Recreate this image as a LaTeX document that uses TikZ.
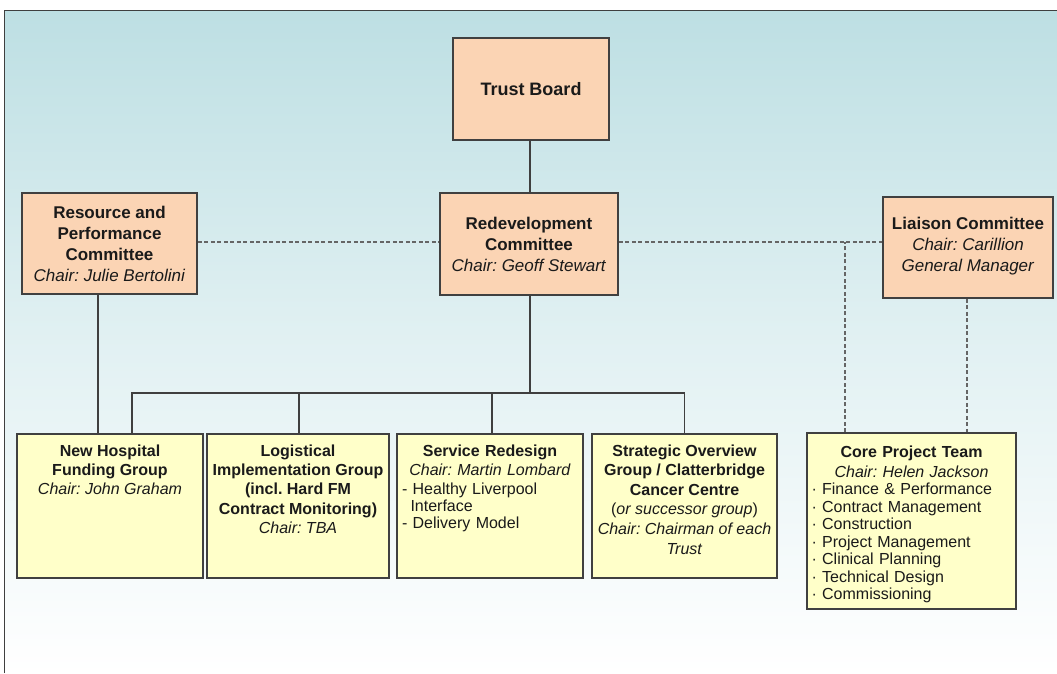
\documentclass[tikz,border=0pt]{standalone}
\usepackage{fontspec}
\setmainfont{Liberation Sans}
\definecolor{salmon}{HTML}{FBD4B4}
\definecolor{paleyel}{HTML}{FFFFC9}
\definecolor{boxline}{HTML}{404040}
\definecolor{txt}{HTML}{1A1A1A}
\definecolor{bgtop}{HTML}{BDDFE3}
\definecolor{conn}{HTML}{3F3F3F}
\frenchspacing
\begin{document}
\begin{tikzpicture}[x=1pt,y=-1pt,
  box/.style={draw=boxline, line width=1.6pt, inner sep=0pt},
  upper/.style={box, fill=salmon},
  lower/.style={box, fill=paleyel},
  uptext/.style={inner sep=0pt, align=center, text=txt, font=\fontsize{17}{21}\selectfont},
  lowtext/.style={inner sep=0pt, anchor=north, text=txt, font=\fontsize{16}{19.4}\selectfont},
  solidline/.style={draw=conn, line width=1.2pt},
  dashline/.style={draw=conn!80, line width=1.1pt, dash pattern=on 4pt off 2.5pt}
]
\useasboundingbox (0,0) rectangle (1057,673);
% background
\shade[top color=bgtop, bottom color=white, middle color=bgtop!45] (4,10) rectangle (1057,673);
\draw[draw=conn, line width=1pt] (4,673) -- (4,10) -- (1057,10);

% upper boxes
\node[upper, minimum width=156pt, minimum height=102pt] (tb) at (531,89) {};
\node[upper, minimum width=178pt, minimum height=102pt] (rd) at (529,244) {};
\node[upper, minimum width=175pt, minimum height=101pt] (rp) at (109.5,243.5) {};
\node[upper, minimum width=170pt, minimum height=101pt] (lc) at (968,247.5) {};

% lower boxes
\node[lower, minimum width=186pt, minimum height=144pt] (nh) at (110,506) {};
\node[lower, minimum width=182pt, minimum height=144pt] (lg) at (298,506) {};
\node[lower, minimum width=186pt, minimum height=144pt] (sr) at (490,506) {};
\node[lower, minimum width=185pt, minimum height=144pt] (so) at (684.5,506) {};
\node[lower, minimum width=209pt, minimum height=176pt] (cp) at (911.5,521) {};

% connectors
\coordinate (bus) at (530,393);
\draw[solidline] ([xshift=-1pt]tb.south) -- ([xshift=1pt]rd.north);
\draw[solidline] ([xshift=1pt]rd.south) -- (bus);
\draw[solidline] ([xshift=22pt]nh.north) |- (so.north |- bus) -- (so.north);
\draw[solidline] ([xshift=1pt]lg.north) -- ([xshift=1pt]lg.north |- bus);
\draw[solidline] ([xshift=2pt]sr.north) -- ([xshift=2pt]sr.north |- bus);
\draw[solidline] ([xshift=-11.5pt]rp.south) -- ([xshift=-12pt]nh.north);
\draw[dashline] ([yshift=1.5pt]rp.east) -- ([yshift=1.5pt]rp.east -| rd.west);
\draw[dashline] ([yshift=2pt]rd.east) -- ([yshift=2pt]rd.east -| lc.west);
\coordinate (cpl) at ([xshift=-66.5pt]cp.north);
\draw[dashline] (cpl) -- ([yshift=2pt]cpl |- rd.east);
\draw[dashline] ([xshift=-1pt]lc.south) -- ([xshift=-1pt]lc.south |- cp.north);

% upper texts
\node[uptext, font=\fontsize{18}{21}\selectfont\bfseries] (tbt) at (tb) {Trust Board};
\node[uptext] (rdt) at (rd) {\textbf{Redevelopment}\\\textbf{Committee}\\\textit{Chair: Geoff Stewart}};
\node[uptext] (rpt) at (rp) {\textbf{Resource and}\\\textbf{Performance}\\\textbf{Committee}\\\textit{Chair: Julie Bertolini}};
\node[uptext] (lct) at ([yshift=1.5pt]lc) {\textbf{Liaison Committee}\\\textit{Chair: Carillion}\\\textit{General Manager}};

% lower texts
\node[lowtext, align=center] (nht) at ([yshift=-11pt]nh.north) {\textbf{New Hospital}\\\textbf{Funding Group}\\\textit{Chair: John Graham}};
\node[lowtext, align=center] (lgt) at ([yshift=-11pt]lg.north) {\textbf{Logistical}\\\textbf{Implementation Group}\\\textbf{(incl. Hard FM}\\\textbf{Contract Monitoring)}\\\textit{Chair: TBA}};
\node[lowtext, text width=176pt] (srt) at ([yshift=-11pt]sr.north) {\centering\fontsize{16}{19}\selectfont\textbf{Service Redesign}\\\textit{Chair: Martin Lombard}\par\vspace{2pt}
\raggedright\fontsize{16}{17}\selectfont - Healthy Liverpool\\\hspace*{8.5pt}Interface\\- Delivery Model\par};
\node[lowtext, align=center, font=\fontsize{16}{19.6}\selectfont] (sot) at ([yshift=-11pt]so.north) {\textbf{Strategic Overview}\\\textbf{Group / Clatterbridge}\\\textbf{Cancer Centre}\\(\textit{or successor group})\\\textit{Chair: Chairman of each}\\\textit{Trust}};
\node[lowtext, text width=200pt] (cpt) at ([yshift=-13pt]cp.north) {\centering\fontsize{16}{20}\selectfont\textbf{Core Project Team}\\\textit{Chair: Helen Jackson}\par
\raggedright\fontsize{16}{17.5}\selectfont · Finance \& Performance\\· Contract Management\\· Construction\\· Project Management\\· Clinical Planning\\· Technical Design\\· Commissioning\par};
\end{tikzpicture}
\end{document}
